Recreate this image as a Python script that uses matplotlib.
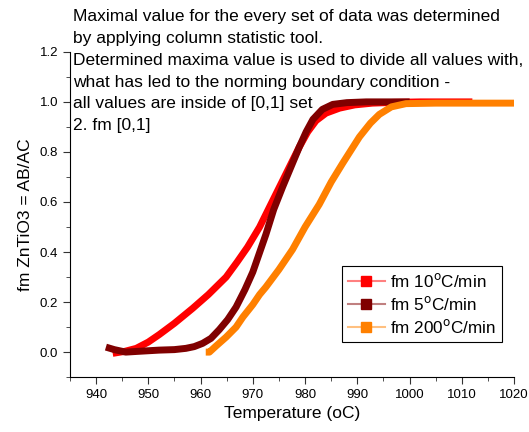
import numpy as np
import matplotlib.pyplot as plt
from matplotlib.lines import Line2D
from matplotlib.ticker import MultipleLocator

plt.rcParams['font.family'] = ['Liberation Sans', 'DejaVu Sans']

# fm 10 C/min
t_10 = [943.2, 945.5, 947.7, 950.0, 952.1, 955.0, 958.5, 961.5, 964.9, 967.0, 969.0,
        971.3, 973.2, 975.1, 977.0, 978.9, 980.5, 982.1, 984.0, 986.6, 989.5,
        992.9, 997.0, 1002.0, 1007.0, 1012.0]
v_10 = [-0.005, 0.003, 0.015, 0.04, 0.07, 0.115, 0.175, 0.23, 0.3, 0.36, 0.42,
        0.5, 0.58, 0.66, 0.74, 0.82, 0.88, 0.925, 0.955, 0.975, 0.988,
        0.995, 0.998, 1.0, 1.0, 1.0]

# fm 5 C/min
t_5 = [941.9, 943.5, 945.7, 948.0, 952.1, 955.0, 957.2, 958.8, 960.4, 962.0, 963.6,
       965.2, 966.8, 968.5, 970.0, 971.0, 972.5, 974.0, 975.7, 977.3, 978.9, 980.2,
       981.5, 983.3, 985.3, 988.0, 991.7, 996.0, 1000.0]
v_5 = [0.02, 0.01, 0.0, 0.003, 0.008, 0.01, 0.015, 0.022, 0.035, 0.055, 0.09,
       0.13, 0.18, 0.25, 0.32, 0.38, 0.47, 0.57, 0.66, 0.74, 0.82, 0.88,
       0.93, 0.97, 0.99, 0.997, 1.0, 1.0, 1.0]

# fm 200 C/min
t_200 = [961.0, 961.7, 963.0, 964.9, 966.8, 968.1, 970.0, 971.3, 972.5, 975.0, 977.6,
         980.0, 982.7, 985.0, 987.2, 990.4, 992.5, 994.2, 996.5, 999.3, 1005.0,
         1012.0, 1020.0]
v_200 = [0.0, 0.0, 0.025, 0.06, 0.1, 0.14, 0.19, 0.23, 0.26, 0.33, 0.41,
         0.5, 0.59, 0.68, 0.755, 0.86, 0.915, 0.95, 0.98, 0.993, 0.995,
         0.995, 0.995]

labels = ['fm 10$^{\\rm o}$C/min', 'fm 5$^{\\rm o}$C/min', 'fm 200$^{\\rm o}$C/min']
colors = ['#ff0000', '#800000', '#ff8000']
light = ['#ff8080', '#c08080', '#ffc080']

note = ['Maximal value for the every set of data was determined',
        'by applying column statistic tool.',
        'Determined maxima value is used to divide all values with,',
        'what has led to the norming boundary condition -',
        'all values are inside of [0,1] set',
        '2. fm [0,1]']

fig = plt.figure(figsize=(5.29, 4.32), dpi=100)
ax = fig.add_axes([0.132, 0.127, 0.840, 0.753])

for t, v, c in zip([t_10, t_5, t_200], [v_10, v_5, v_200], colors):
    ax.plot(t, v, color=c, lw=5, solid_capstyle='butt', solid_joinstyle='round')

ax.set_xlim(935, 1020)
ax.set_ylim(-0.1, 1.2)
ax.xaxis.set_major_locator(MultipleLocator(10))
ax.xaxis.set_minor_locator(MultipleLocator(5))
ax.yaxis.set_major_locator(MultipleLocator(0.2))
ax.yaxis.set_minor_locator(MultipleLocator(0.1))
ax.yaxis.set_major_formatter(plt.FormatStrFormatter('%.1f'))
ax.spines['top'].set_visible(False)
ax.spines['right'].set_visible(False)
ax.tick_params(which='major', length=5, labelsize=9.5, color='#333333')
ax.tick_params(which='minor', length=3, color='#333333')
ax.set_xlabel('Temperature (oC)', fontsize=12.5)
ax.set_ylabel('fm ZnTiO3 = AB/AC', fontsize=12.5, labelpad=5)

handles = [Line2D([0], [0], color=lc, lw=1.5, marker='s', markersize=6.5,
                  markerfacecolor=c, markeredgecolor=c)
           for c, lc in zip(colors, light)]
leg = ax.legend(handles, labels, loc='lower right', bbox_to_anchor=(0.973, 0.108),
                borderaxespad=0, fontsize=12.3, fancybox=False, edgecolor='black',
                framealpha=1, handlelength=2.2, handletextpad=0.3, labelspacing=0.3,
                borderpad=0.35)
leg.get_frame().set_linewidth(0.8)

for i, line in enumerate(note):
    fig.text(73 / 529, 1 - (17 + i * 21.7) / 432, line, fontsize=12.5, va='center', ha='left')

fig.savefig('out.png', dpi=100)
